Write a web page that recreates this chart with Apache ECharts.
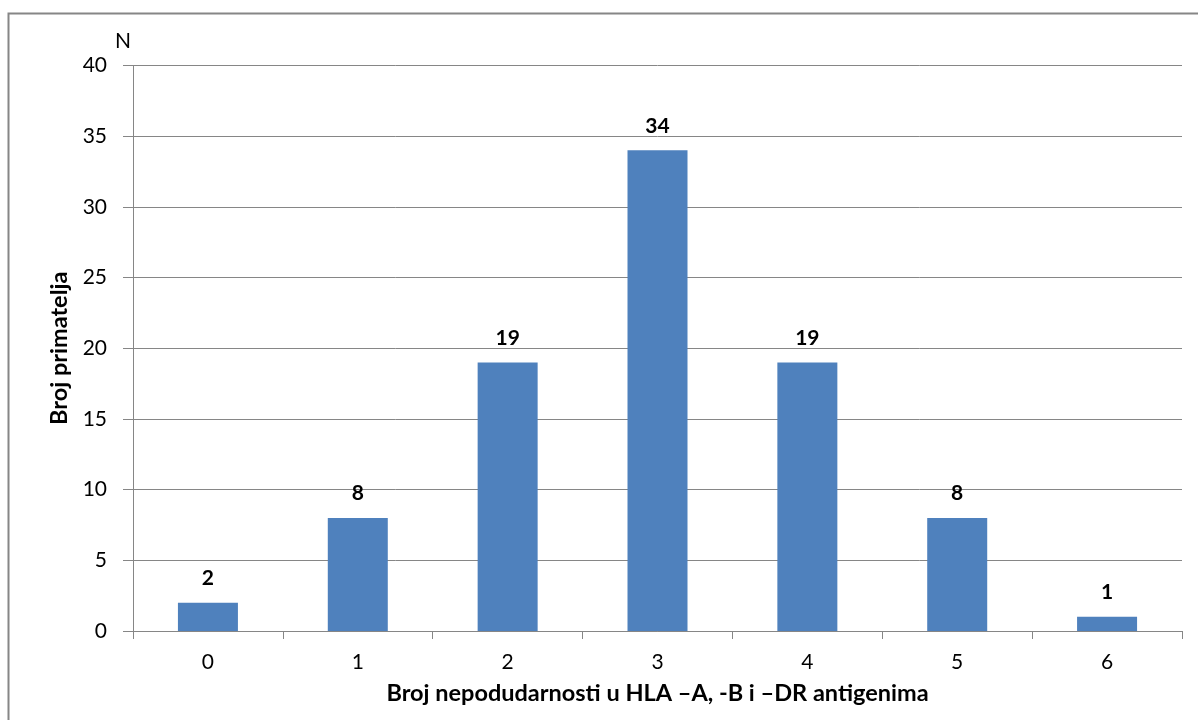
<!DOCTYPE html>
<html>
<head>
<meta charset="utf-8">
<script src="https://cdn.jsdelivr.net/npm/echarts@6/dist/echarts.min.js"></script>
<style>html,body{margin:0;padding:0;background:#fff;}#c{width:1198px;height:720px;}</style>
</head>
<body>
<div id="c"></div>
<script>
const categories = ['0', '1', '2', '3', '4', '5', '6'];
const values = [2, 8, 19, 34, 19, 8, 1];
const yTicks = [0, 5, 10, 15, 20, 25, 30, 35, 40];
const xTitle = 'Broj nepodudarnosti u HLA \u2013A, -B i \u2013DR antigenima';
const yTitle = 'Broj primatelja';
const unitLabel = 'N';

const chart = echarts.init(document.getElementById('c'));
const FONT = 'Lato';
chart.setOption({
  animation: false,
  backgroundColor: '#fff',
  textStyle: { fontFamily: FONT },
  graphic: [
    { type: 'rect', shape: { x: 8.5, y: 13.5, width: 1300, height: 800 }, style: { fill: 'none', stroke: '#868686', lineWidth: 2 } },
    { type: 'text', left: 115, top: 31, style: { text: unitLabel, font: '21px ' + FONT, fill: '#000' } }
  ],
  grid: { left: 133, top: 65.5, right: 16, bottom: 89, containLabel: false },
  xAxis: {
    type: 'category',
    data: categories,
    boundaryGap: true,
    axisLine: { show: true, lineStyle: { color: '#868686', width: 1 } },
    axisTick: { show: true, length: 8, alignWithLabel: false, lineStyle: { color: '#868686' } },
    axisLabel: { fontSize: 21, color: '#000', margin: 21, fontFamily: FONT },
    name: xTitle,
    nameLocation: 'middle',
    nameGap: 50,
    nameTextStyle: { fontSize: 23.5, fontWeight: 'bold', color: '#000', fontFamily: FONT }
  },
  yAxis: {
    type: 'value',
    min: yTicks[0],
    max: yTicks[yTicks.length - 1],
    interval: 5,
    axisLine: { show: true, lineStyle: { color: '#868686', width: 1 } },
    axisTick: { show: true, length: 10, lineStyle: { color: '#868686' } },
    axisLabel: { fontSize: 21, color: '#000', margin: 26, fontFamily: FONT },
    splitLine: { show: true, lineStyle: { color: '#868686', width: 1 } },
    name: yTitle,
    nameLocation: 'middle',
    nameGap: 62,
    nameRotate: 90,
    nameTextStyle: { fontSize: 23.5, fontWeight: 'bold', color: '#000', fontFamily: FONT }
  },
  series: [{
    type: 'bar',
    data: values,
    barWidth: 60,
    itemStyle: { color: '#4F81BD' },
    label: { show: true, position: 'top', distance: 14, fontSize: 21, fontWeight: 'bold', color: '#000', fontFamily: FONT }
  }]
});
</script>
</body>
</html>
